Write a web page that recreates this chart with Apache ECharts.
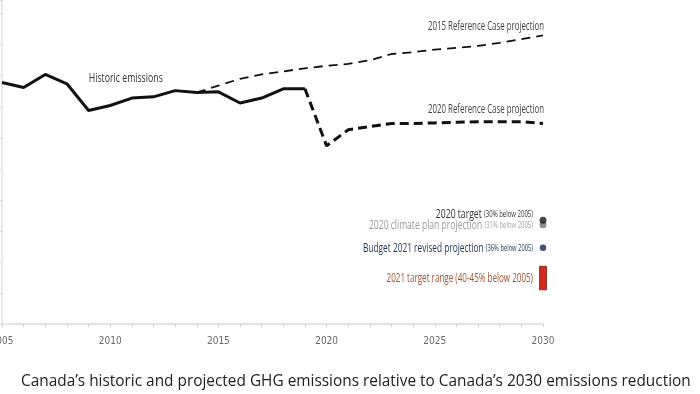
<!DOCTYPE html>
<html><head><meta charset="utf-8">
<script src="https://cdn.jsdelivr.net/npm/echarts@6/dist/echarts.min.js"></script>
<style>html,body{margin:0;padding:0;background:#fff}#c{width:700px;height:394px}</style>
</head><body><div id="c"></div>
<script>
// ---- data (Mt CO2 eq) ----
const histYears = [2005,2006,2007,2008,2009,2010,2011,2012,2013,2014,2015,2016,2017,2018,2019];
const historic  = [739, 731, 752, 737, 694, 702, 714, 716, 726, 723, 724, 706, 714, 729, 729];
const ref2015Years = [2014,2015,2016,2017,2018,2019,2020,2021,2022,2023,2024,2025,2026,2027,2028,2029,2030];
const ref2015      = [723, 734, 745, 752, 757, 762, 766, 769, 775, 785, 788, 792, 795, 798, 803, 809, 815];
const ref2020Years = [2019,2020,2021,2022,2023,2024,2025,2026,2027,2028,2029,2030];
const ref2020      = [729, 637, 663, 668, 673, 673, 674, 675, 676, 676, 676, 673];
const markerYear = 2030;
const target2020 = 517;
const climatePlan2020 = 510;
const budget2021 = 473;
const targetRange2021 = [405, 443];
const historicLabelAt = [2010.72, 745];
const xLabelYears = [2005, 2010, 2015, 2020, 2025, 2030];
const captionText = "Canada\u2019s historic and projected GHG emissions relative to Canada\u2019s 2030 emissions reduction";

const zip = (xs, ys) => xs.map((x, i) => [x, ys[i]]);
const narrow = "'Liberation Sans Narrow','DejaVu Sans Condensed',sans-serif";

const chart = echarts.init(document.getElementById('c'), null, {renderer: 'canvas'});
const option = {
  animation: false,
  backgroundColor: '#fff',
  grid: {left: 2, right: 157, top: 0, bottom: 70, containLabel: false, outerBoundsMode: 'none'},
  title: {
    text: captionText, left: 21, top: 374, padding: 0,
    textStyle: {fontFamily: 'Open Sans', fontSize: 15.4, fontWeight: 'normal', color: '#222'}
  },
  xAxis: {
    type: 'value', min: 2005, max: 2030, interval: 1,
    axisLine: {lineStyle: {color: '#dcdcdc', width: 1.5}},
    axisTick: {show: true, length: 3, lineStyle: {color: '#cfcfcf'}},
    axisLabel: {
      formatter: v => xLabelYears.includes(v) ? String(v) : '',
      color: '#6a6a6a', fontFamily: narrow, fontSize: 10, margin: 12
    },
    splitLine: {show: false}
  },
  yAxis: {
    type: 'value', min: 350, max: 872, interval: 50,
    axisLine: {show: true, lineStyle: {color: '#e3e3e3', width: 1.5}},
    axisTick: {show: true, length: 3, lineStyle: {color: '#dedede'}},
    axisLabel: {show: false},
    splitLine: {show: false}
  },
  series: [
    {name: 'Historic emissions', type: 'line', data: zip(histYears, historic), symbol: 'none', z: 4,
     lineStyle: {color: '#111', width: 3}},
    {name: '2015 Reference Case projection', type: 'line', data: zip(ref2015Years, ref2015), symbol: 'none', z: 3,
     lineStyle: {color: '#111', width: 1.8, type: [9, 6]}},
    {name: '2020 Reference Case projection', type: 'line', data: zip(ref2020Years, ref2020), symbol: 'none', z: 3,
     lineStyle: {color: '#111', width: 3, type: [9, 5]}},
    {name: '2020 climate plan projection', type: 'scatter', data: [[markerYear, climatePlan2020]], symbolSize: 7, clip: false, z: 5,
     itemStyle: {color: '#6f6f62'}},
    {name: '2020 target', type: 'scatter', data: [[markerYear, target2020]], symbolSize: 7, clip: false, z: 6,
     itemStyle: {color: '#1a1a1a'}},
    {name: 'Budget 2021 revised projection', type: 'scatter', data: [[markerYear, budget2021]], symbolSize: 6.5, clip: false, z: 5,
     itemStyle: {color: '#1b2650'}},
    {name: '2021 target range', type: 'custom', clip: false, z: 5,
     data: [[markerYear, targetRange2021[0], targetRange2021[1]]],
     renderItem: (params, api) => {
       const lo = api.coord([api.value(0), api.value(1)]);
       const hi = api.coord([api.value(0), api.value(2)]);
       return {type: 'rect', shape: {x: lo[0] - 3.5, y: hi[1], width: 7, height: lo[1] - hi[1]},
               style: {fill: '#cf2a1e', stroke: '#8e1c14', lineWidth: 0.8}};
     }}
  ]
};
chart.setOption(option);

// ---- condensed text annotations anchored to data coordinates ----
const px = p => chart.convertToPixel({gridIndex: 0}, p);
function note(anchor, dx, dy, text, align, fill, size, sx, rich) {
  const p = px(anchor);
  const style = {text, fill, fontFamily: 'Open Sans', fontSize: size, align, verticalAlign: 'middle'};
  if (rich) style.rich = rich;
  return {type: 'text', x: p[0] + dx, y: p[1] + dy, scaleX: sx, silent: true, z: 10, style};
}
const richSet = (fill, small) => ({
  a: {fill, fontFamily: 'Open Sans', fontSize: 12.5},
  b: {fill: small, fontFamily: 'Open Sans', fontSize: 8.7}
});
const last = (xs, ys) => [xs[xs.length - 1], ys[ys.length - 1]];
chart.setOption({
  graphic: [
    note(historicLabelAt, 0, 0, 'Historic emissions', 'center', '#333', 12.5, 0.70),
    note(last(ref2015Years, ref2015), 1, -9, '2015 Reference Case projection', 'right', '#444', 12.5, 0.63),
    note(last(ref2020Years, ref2020), 1, -14, '2020 Reference Case projection', 'right', '#444', 12.5, 0.63),
    note([markerYear, target2020], -10, -6, '{a|2020 target} {b|(30% below 2005)}', 'right', '#333', 12.5, 0.69, richSet('#333', '#333')),
    note([markerYear, climatePlan2020], -10, 1, '{a|2020 climate plan projection} {b|(31% below 2005)}', 'right', '#999', 12.5, 0.685, richSet('#9a9a9a', '#a5a5a5')),
    note([markerYear, budget2021], -10, 1, '{a|Budget 2021 revised projection} {b|(36% below 2005)}', 'right', '#1e3452', 12.5, 0.665, richSet('#1e3452', '#1e3452')),
    note([markerYear, (targetRange2021[0] + targetRange2021[1]) / 2], -10, 0, '2021 target range (40-45% below 2005)', 'right', '#a5532e', 12.5, 0.645)
  ]
});
</script>
</body></html>
